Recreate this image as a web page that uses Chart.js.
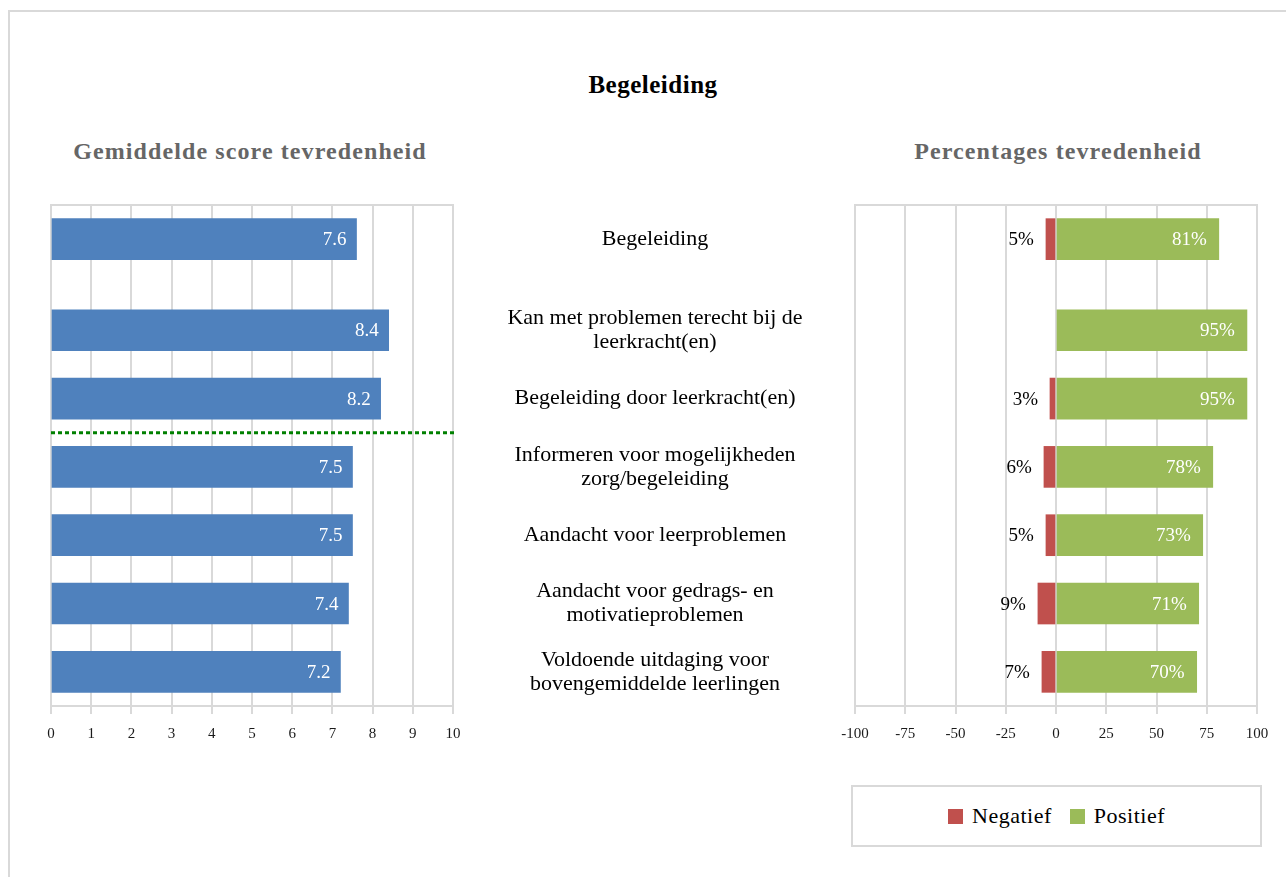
<!DOCTYPE html>
<html>
<head>
<meta charset="utf-8">
<script src="https://cdn.jsdelivr.net/npm/chart.js@4.4.1/dist/chart.umd.min.js"></script>
<style>
html,body{margin:0;padding:0;background:#fff;overflow:hidden;width:1286px;height:877px;}
body{position:relative;font-family:"Liberation Serif","Times New Roman",serif;}
#frame{position:absolute;left:8px;top:10px;width:1300px;height:900px;border:2px solid #d9d9d9;box-sizing:border-box;}
.title{position:absolute;font-weight:bold;text-align:center;white-space:nowrap;line-height:1;}
#main{left:453px;width:400px;top:72px;font-size:25px;color:#000;letter-spacing:0.5px;}
#t1{left:50px;width:400px;top:139px;font-size:24px;color:#666;letter-spacing:1.1px;}
#t2{left:858px;width:400px;top:139px;font-size:24px;color:#666;letter-spacing:1.1px;}
#c1{position:absolute;left:30px;top:185px;}
#c2{position:absolute;left:835px;top:185px;}
#legend{position:absolute;left:851px;top:785px;width:411px;height:62px;border:2px solid #d9d9d9;box-sizing:border-box;display:flex;align-items:center;justify-content:center;font-size:22px;color:#000;letter-spacing:0.5px;}
.li{display:flex;align-items:center;margin:0 9px;}
.sw{width:15px;height:15px;margin-right:9px;}
</style>
</head>
<body>
<div id="frame"></div>
<div class="title" id="main">Begeleiding</div>
<div class="title" id="t1">Gemiddelde score tevredenheid</div>
<div class="title" id="t2">Percentages tevredenheid</div>
<canvas id="c1" width="825" height="580"></canvas>
<canvas id="c2" width="440" height="580"></canvas>
<div id="legend"></div>
<script>
// ---------- data ----------
const categories = [
  "Begeleiding",
  ["Kan met problemen terecht bij de", "leerkracht(en)"],
  "Begeleiding door leerkracht(en)",
  ["Informeren voor mogelijkheden", "zorg/begeleiding"],
  "Aandacht voor leerproblemen",
  ["Aandacht voor gedrags- en", "motivatieproblemen"],
  ["Voldoende uitdaging voor", "bovengemiddelde leerlingen"]
];
const scores   = [7.6, 8.4, 8.2, 7.5, 7.5, 7.4, 7.2];
const negatief = [5, null, 3, 6, 5, 9, 7];
const positief = [81, 95, 95, 78, 73, 71, 70];
const seriesNames = ["Negatief", "Positief"];
const scoreTicks = [0, 10, 1];      // min, max, step
const pctTicks   = [-100, 100, 25]; // min, max, step

// ---------- layout ----------
const FONT = '"Liberation Serif","Times New Roman",serif';
const SLOT_COUNT = 22;
const ROW_SLOTS = [1, 5, 8, 11, 14, 17, 20];
const DIVIDER_AFTER_ROW = 3;
const MID_LABEL_OFFSET = 202;
const BAR_THICK = 41;

function spread(arr, fill) {
  const out = new Array(SLOT_COUNT).fill(fill);
  arr.forEach((v, i) => { out[ROW_SLOTS[i]] = v; });
  return out;
}

// measure widest category line to center labels
const mctx = document.createElement('canvas').getContext('2d');
mctx.font = '22px ' + FONT;
let widest = 0;
categories.forEach(c => [].concat(c).forEach(l => { widest = Math.max(widest, mctx.measureText(l).width); }));
const LABEL_PAD = MID_LABEL_OFFSET - widest / 2;

// ---------- plugins ----------
const frameBox = {
  id: 'frameBox',
  beforeDatasetsDraw(chart) {
    const {ctx, chartArea: a} = chart;
    ctx.save();
    ctx.strokeStyle = '#d9d9d9';
    ctx.lineWidth = 2;
    ctx.strokeRect(a.left, a.top, a.right - a.left, a.bottom - a.top);
    ctx.restore();
  }
};

const valueLabels = {
  id: 'valueLabels',
  afterDatasetsDraw(chart) {
    const ctx = chart.ctx;
    ctx.save();
    ctx.font = '19px ' + FONT;
    ctx.textBaseline = 'middle';
    ctx.textAlign = 'right';
    chart.data.datasets.forEach((ds, di) => {
      const meta = chart.getDatasetMeta(di);
      meta.data.forEach((el, i) => {
        const v = ds.data[i];
        if (v === null || v === undefined || v === 0) return;
        const st = ds.labelStyle;
        ctx.fillStyle = st.color;
        ctx.fillText(st.fmt(v), el.x - st.pad, el.y + 1);
      });
    });
    ctx.restore();
  }
};

const divider = {
  id: 'divider',
  afterDatasetsDraw(chart) {
    const {ctx, chartArea: a} = chart;
    const ys = chart.scales.y;
    const y = (ys.getPixelForValue(ROW_SLOTS[DIVIDER_AFTER_ROW - 1]) + ys.getPixelForValue(ROW_SLOTS[DIVIDER_AFTER_ROW])) / 2;
    ctx.save();
    ctx.strokeStyle = '#008000';
    ctx.lineWidth = 3;
    ctx.setLineDash([4, 3]);
    ctx.beginPath();
    ctx.moveTo(a.left, y);
    ctx.lineTo(a.right + 2, y);
    ctx.stroke();
    ctx.restore();
  }
};

const xAxisCommon = (rng) => ({
  min: rng[0], max: rng[1],
  ticks: {stepSize: rng[2], color: '#1a1a1a', font: {family: FONT, size: 15}, padding: 11, maxRotation: 0, autoSkip: false},
  grid: {color: '#d9d9d9', lineWidth: 2, tickLength: 8, tickColor: '#d9d9d9'},
  border: {color: '#d9d9d9', width: 2},
  afterFit(s) { s.height = 59; s.paddingLeft = 0; s.paddingRight = 0; }
});

// ---------- left chart ----------
new Chart(document.getElementById('c1'), {
  type: 'bar',
  data: {
    labels: spread(categories, ''),
    datasets: [{
      label: 'Gemiddelde score',
      data: spread(scores, null),
      backgroundColor: '#4f81bd',
      barThickness: BAR_THICK,
      borderWidth: 0,
      labelStyle: {color: '#ffffff', pad: 10, fmt: v => v.toFixed(1)}
    }]
  },
  options: {
    indexAxis: 'y', responsive: false, animation: false, devicePixelRatio: 1,
    layout: {padding: {left: 21, right: 0, top: 20, bottom: 0}},
    plugins: {legend: {display: false}, tooltip: {enabled: false}},
    scales: {
      x: xAxisCommon(scoreTicks),
      y: {
        position: 'right',
        ticks: {autoSkip: false, crossAlign: 'center', padding: LABEL_PAD, color: '#000', font: {family: FONT, size: 22, lineHeight: 1.1}},
        grid: {display: false, drawTicks: false},
        border: {display: false},
        afterFit(s) { s.width = 402; s.paddingTop = 0; s.paddingBottom = 0; }
      }
    }
  },
  plugins: [frameBox, valueLabels, divider]
});

// ---------- right chart ----------
const colors = ['#c0504d', '#9bbb59'];
const c2 = new Chart(document.getElementById('c2'), {
  type: 'bar',
  data: {
    labels: spread(categories, ''),
    datasets: [
      {label: seriesNames[0], data: spread(negatief.map(v => v === null ? null : -v), null),
       backgroundColor: colors[0], barThickness: BAR_THICK, borderWidth: 0,
       labelStyle: {color: '#000000', pad: 12, fmt: v => Math.abs(v) + '%'}},
      {label: seriesNames[1], data: spread(positief, null),
       backgroundColor: colors[1], barThickness: BAR_THICK, borderWidth: 0,
       labelStyle: {color: '#ffffff', pad: 12, fmt: v => v + '%'}}
    ]
  },
  options: {
    indexAxis: 'y', responsive: false, animation: false, devicePixelRatio: 1,
    layout: {padding: {left: 20, right: 18, top: 20, bottom: 0}},
    plugins: {legend: {display: false}, tooltip: {enabled: false}},
    scales: {
      x: Object.assign(xAxisCommon(pctTicks), {stacked: true}),
      y: {stacked: true, display: false}
    }
  },
  plugins: [frameBox, valueLabels]
});

// ---------- legend ----------
const lg = document.getElementById('legend');
c2.data.datasets.forEach(ds => {
  const item = document.createElement('div');
  item.className = 'li';
  const sw = document.createElement('div');
  sw.className = 'sw';
  sw.style.background = ds.backgroundColor;
  const tx = document.createElement('span');
  tx.textContent = ds.label;
  item.appendChild(sw); item.appendChild(tx);
  lg.appendChild(item);
});
</script>
</body>
</html>
